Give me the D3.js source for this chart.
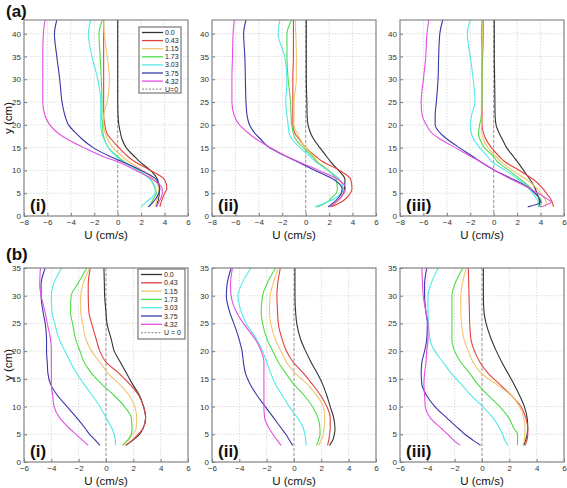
<!DOCTYPE html>
<html><head><meta charset="utf-8">
<script src="https://cdn.jsdelivr.net/npm/d3@7/dist/d3.min.js"></script>
<style>body{margin:0;background:#fff}svg{display:block;font-family:"Liberation Sans",Arial,sans-serif}</style>
</head><body><svg id="c" width="567" height="488"></svg>
<script>
// ---------- DATA ----------
const legendLabels = ["0.0","0.43","1.15","1.73","3.03","3.75","4.32"];
const seriesColors = ["#333333","#e0423c","#f2c46c","#4edc4e","#55e8e8","#3838a8","#e24fe2"];
const ticksXA = [-8,-6,-4,-2,0,2,4,6];
const ticksYA = [0,5,10,15,20,25,30,35,40];
const ticksXB = [-6,-4,-2,0,2,4,6];
const ticksYB = [0,5,10,15,20,25,30,35];

// Row (a): heights y (cm)
const yA = [2,3,4,5,6,8,10,12,13,15,17,18,20,22,25,30,35,40,43];
// (a)(i)
const aI_0   = [3.3,3.4,3.5,3.55,3.55,3.4,2.8,1.85,1.45,0.72,0.35,0.25,0.1,0.03,0,0,0,0,0];
const aI_043 = [3.6,3.7,3.85,4.0,4.2,4.0,2.8,1.4,0.9,0.1,-0.6,-0.9,-1.1,-1.2,-1.2,-1.2,-1.2,-1.2,-1.2];
const aI_115 = [3.2,3.3,3.4,3.5,3.5,3.1,2.1,0.9,0.4,-0.4,-0.9,-1.05,-1.2,-1.2,-0.9,-0.7,-0.9,-1.15,-1.2];
const aI_173 = [2.7,2.9,3.1,3.3,3.2,2.8,1.8,0.5,0,-0.8,-1.15,-1.25,-1.3,-1.35,-1.35,-1.4,-1.5,-1.6,-1.3];
const aI_303 = [2.0,2.4,2.9,3.2,3.2,2.8,1.7,0.4,-0.1,-0.8,-1.2,-1.35,-1.45,-1.45,-1.45,-1.7,-2.2,-2.5,-2.3];
const aI_375 = [2.6,3.0,3.3,3.5,3.6,3.3,2.0,0.3,-0.6,-2.1,-3.1,-3.5,-4.2,-4.5,-4.75,-4.95,-5.2,-5.4,-5.2];
const aI_432 = [3.3,3.5,3.7,3.8,3.8,3.0,1.55,-0.1,-1.2,-2.9,-4.4,-5.0,-5.8,-6.2,-6.4,-6.4,-6.4,-6.35,-6.2];
// (a)(ii)
const aII_0   = [2.0,2.6,3.0,3.2,3.3,3.35,2.8,2.1,1.8,1.2,0.65,0.45,0.2,0.12,0.1,0.05,0.05,0.05,0.05];
const aII_043 = [2.2,3.0,3.5,3.8,3.95,3.85,2.9,1.4,0.9,0,-0.6,-0.9,-1.1,-1.1,-1.1,-1.1,-1.05,-1.05,-1.05];
const aII_115 = [2.0,2.6,3.0,3.15,3.2,2.8,2.0,1.0,0.7,0,-0.5,-0.7,-1.0,-1.0,-1.0,-0.8,-0.8,-0.85,-0.9];
const aII_173 = [1.0,1.8,2.2,2.6,2.7,2.6,1.9,0.9,0.6,-0.2,-0.9,-1.05,-1.2,-1.25,-1.3,-1.5,-1.6,-1.6,-1.2];
const aII_303 = [0.8,1.8,2.6,3.0,3.2,2.9,1.9,0.8,0.4,-0.5,-1.2,-1.4,-1.5,-1.6,-1.7,-1.6,-1.8,-2.35,-2.2];
const aII_375 = [1.9,2.4,2.8,3.05,3.1,2.4,0.8,-0.8,-1.6,-3.1,-3.9,-4.3,-4.8,-5.0,-5.1,-5.15,-5.2,-5.3,-5.1];
const aII_432 = [2.1,2.5,2.95,3.25,3.4,2.8,1.1,-0.7,-1.55,-3.0,-4.3,-4.8,-5.65,-6.1,-6.3,-6.3,-6.25,-6.2,-6.1];
// (a)(iii)
const aIII_0   = [3.85,3.9,3.85,3.7,3.55,3.1,2.55,2.0,1.7,1.1,0.7,0.5,0.2,0.12,0.1,0.08,0.05,0.05,0.05];
const aIII_043 = [5.1,5.0,4.8,4.5,4.2,3.4,2.2,0.9,0.5,-0.2,-0.7,-0.85,-1.0,-1.0,-1.0,-1.0,-0.95,-0.9,-0.9];
const aIII_115 = [4.4,4.5,4.3,4.0,3.7,2.8,1.6,0.6,0.2,-0.5,-0.9,-1.0,-1.05,-1.05,-1.05,-1.0,-1.0,-0.95,-0.95];
const aIII_173 = [3.9,4.1,3.9,3.55,3.2,2.3,1.3,0.3,0,-0.8,-1.2,-1.3,-1.2,-1.05,-1.0,-1.0,-1.0,-1.05,-1.0];
const aIII_303 = [3.8,3.8,3.6,3.3,3.0,2.1,1.0,-0.2,-0.5,-1.2,-1.75,-1.9,-2.0,-1.9,-1.6,-1.75,-2.0,-2.25,-2.0];
const aIII_375 = [2.9,4.0,3.85,3.5,3.1,1.7,0.1,-1.2,-1.75,-2.95,-4.05,-4.5,-5.0,-5.0,-4.9,-4.75,-4.7,-4.6,-4.35];
const aIII_432 = [4.0,4.9,4.4,3.8,3.1,1.55,0.1,-1.2,-1.9,-3.3,-4.65,-5.2,-5.75,-6.1,-6.2,-6.0,-5.8,-5.7,-5.55];

// Row (b): heights y (cm)
const yB = [3,4,5,6,8,10,12,14,16,18,20,22,25,27,30,32,35];
// (b)(i)
const bI_0   = [1.45,2.0,2.45,2.7,2.9,2.75,2.45,1.95,1.5,1.05,0.6,0.4,0.07,0,-0.1,-0.12,-0.15];
const bI_043 = [1.45,1.95,2.35,2.7,2.9,2.75,2.4,1.75,0.95,0.0,-0.45,-0.7,-1.05,-1.25,-1.3,-1.3,-1.15];
const bI_115 = [1.25,1.65,1.95,2.2,2.25,2.1,1.7,1.0,0.15,-0.45,-1.05,-1.45,-1.7,-1.85,-1.85,-1.7,-1.2];
const bI_173 = [1.2,1.6,1.85,1.9,1.85,1.35,0.6,-0.3,-1.05,-1.6,-1.9,-2.2,-2.45,-2.6,-2.55,-2.1,-1.4];
const bI_303 = [0.7,0.68,0.6,0.45,0.0,-0.45,-1.0,-1.6,-2.15,-2.6,-3.0,-3.4,-3.75,-3.95,-4.0,-3.85,-3.25];
const bI_375 = [-0.45,-0.8,-1.2,-1.5,-2.15,-2.85,-3.55,-4.05,-4.25,-4.3,-4.35,-4.35,-4.45,-4.6,-4.75,-4.75,-4.45];
const bI_432 = [-1.3,-1.75,-2.2,-2.65,-3.4,-3.8,-3.9,-4.0,-4.0,-4.0,-4.0,-4.05,-4.3,-4.45,-4.75,-4.85,-4.8];
// (b)(ii)
const bII_0   = [2.6,2.85,2.95,3.0,2.9,2.65,2.4,2.1,1.7,1.25,0.85,0.5,0.2,0.12,0.07,0.07,0.07];
const bII_043 = [2.45,2.55,2.6,2.65,2.65,2.4,1.95,1.35,0.7,-0.05,-0.55,-0.85,-1.15,-1.2,-1.25,-1.2,-1.0];
const bII_115 = [1.8,2.0,2.15,2.2,2.25,2.15,1.65,1.0,0.1,-0.55,-0.95,-1.35,-1.7,-1.8,-1.75,-1.55,-1.15];
const bII_173 = [1.65,1.8,1.9,1.9,1.75,1.35,0.75,0,-0.6,-1.15,-1.55,-1.95,-2.3,-2.4,-2.3,-2.0,-1.35];
const bII_303 = [0.9,0.85,0.8,0.7,0.25,-0.35,-0.85,-1.35,-1.7,-2.0,-2.3,-2.7,-3.5,-3.85,-4.1,-3.85,-3.15];
const bII_375 = [-0.1,-0.35,-0.6,-0.9,-1.5,-2.1,-2.7,-3.2,-3.55,-3.7,-3.8,-4.0,-4.4,-4.7,-4.95,-4.9,-4.6];
const bII_432 = [-0.95,-1.25,-1.55,-1.8,-2.15,-2.2,-2.2,-2.2,-2.2,-2.2,-2.4,-2.8,-3.7,-4.2,-4.6,-4.65,-4.5];
// (b)(iii)
const bIII_0   = [3.05,3.2,3.3,3.35,3.3,3.1,2.75,2.35,1.9,1.45,1.05,0.7,0.3,0.15,0.1,0.1,0.1];
const bIII_043 = [3.15,3.3,3.35,3.35,3.2,2.85,2.15,1.3,0.45,-0.15,-0.55,-0.8,-0.9,-0.92,-0.95,-0.97,-1.0];
const bIII_115 = [3.0,3.1,3.12,3.15,3.05,2.75,2.15,1.05,-0.05,-0.65,-1.0,-1.3,-1.5,-1.55,-1.55,-1.45,-1.15];
const bIII_173 = [2.6,2.6,2.6,2.35,1.95,1.3,0.45,-0.3,-0.9,-1.55,-2.0,-2.2,-2.2,-2.2,-2.2,-2.0,-1.4];
const bIII_303 = [1.9,1.65,1.5,1.3,0.8,0.05,-0.8,-1.5,-2.25,-2.85,-3.45,-3.8,-3.9,-3.95,-3.95,-3.75,-3.2];
const bIII_375 = [-0.1,-0.7,-1.25,-1.7,-2.6,-3.45,-4.05,-4.4,-4.45,-4.4,-4.2,-4.05,-4.0,-4.1,-4.2,-4.2,-4.05];
const bIII_432 = [-1.6,-2.1,-2.5,-2.95,-3.8,-4.15,-4.2,-4.25,-4.2,-4.1,-4.05,-3.95,-3.95,-4.1,-4.3,-4.35,-4.4];

// ---------- LAYOUT ----------
const svg = d3.select("#c");
const colLeft = [24, 212, 400], plotW = 164;
const rows = [
  {top:20, bottom:216, xd:[-8,6], yd:[0,43], xt:ticksXA, yt:ticksYA, ys:yA, tag:"(a)", tagY:17, lblY:239,
   legend:{x:139,y:27,w:42,h:66,dy:8.1,zero:"U=0"},
   sets:[[aI_0,aI_043,aI_115,aI_173,aI_303,aI_375,aI_432],
         [aII_0,aII_043,aII_115,aII_173,aII_303,aII_375,aII_432],
         [aIII_0,aIII_043,aIII_115,aIII_173,aIII_303,aIII_375,aIII_432]]},
  {top:268, bottom:462, xd:[-6,6], yd:[0,35], xt:ticksXB, yt:ticksYB, ys:yB, tag:"(b)", tagY:260, lblY:485,
   legend:{x:138,y:269,w:47,h:70,dy:8.3,zero:"U = 0"},
   sets:[[bI_0,bI_043,bI_115,bI_173,bI_303,bI_375,bI_432],
         [bII_0,bII_043,bII_115,bII_173,bII_303,bII_375,bII_432],
         [bIII_0,bIII_043,bIII_115,bIII_173,bIII_303,bIII_375,bIII_432]]}
];
const roman = ["(i)","(ii)","(iii)"];

rows.forEach((r, ri) => {
  svg.append("text").attr("x",6).attr("y",r.tagY).attr("font-size",17).attr("font-weight","bold")
     .attr("fill","#111").text(r.tag);
  r.sets.forEach((set, ci) => {
    const L = colLeft[ci];
    const x = d3.scaleLinear().domain(r.xd).range([L, L+plotW]);
    const y = d3.scaleLinear().domain(r.yd).range([r.bottom, r.top]);
    const g = svg.append("g");
    // grid
    g.selectAll(".gx").data(r.xt).join("line").attr("x1",d=>x(d)).attr("x2",d=>x(d))
      .attr("y1",r.top).attr("y2",r.bottom).attr("stroke","#d4d4d4").attr("stroke-width",0.8).attr("stroke-dasharray","1.5,1.5");
    g.selectAll(".gy").data(r.yt).join("line").attr("y1",d=>y(d)).attr("y2",d=>y(d))
      .attr("x1",L).attr("x2",L+plotW).attr("stroke","#d4d4d4").attr("stroke-width",0.8).attr("stroke-dasharray","1.5,1.5");
    // axes
    const ax = g.append("g").attr("transform",`translate(0,${r.bottom})`)
      .call(d3.axisBottom(x).tickValues(r.xt).tickSize(-3).tickPadding(3).tickFormat(d3.format("d")));
    const ay = g.append("g").attr("transform",`translate(${L},0)`)
      .call(d3.axisLeft(y).tickValues(r.yt).tickSize(-3).tickPadding(3).tickFormat(d3.format("d")));
    [ax,ay].forEach(a=>{a.select(".domain").remove();
      a.selectAll("line").attr("stroke","#777");
      a.selectAll("text").attr("font-size",8).attr("fill","#333").attr("font-family","Liberation Sans, Arial");});
    // U=0 dashed
    g.append("line").attr("x1",x(0)).attr("x2",x(0)).attr("y1",r.top).attr("y2",r.bottom)
      .attr("stroke","#999").attr("stroke-width",1).attr("stroke-dasharray","3,2");
    // curves
    const line = d3.line().x(d=>x(d[1])).y(d=>y(d[0])).curve(d3.curveMonotoneY);
    set.forEach((vals, si) => {
      g.append("path").datum(r.ys.map((yy,i)=>[yy, vals[i]]))
       .attr("d", line).attr("fill","none").attr("stroke",seriesColors[si]).attr("stroke-width",1.1);
    });
    // box
    g.append("rect").attr("x",L).attr("y",r.top).attr("width",plotW).attr("height",r.bottom-r.top)
      .attr("fill","none").attr("stroke","#888").attr("stroke-width",1.2);
    // roman label
    g.append("text").attr("x",L+6).attr("y",r.bottom-5).attr("font-size",17).attr("font-weight","bold")
      .attr("fill","#111").text(roman[ci]);
    // x label
    g.append("text").attr("x",L+plotW/2).attr("y",r.lblY).attr("text-anchor","middle")
      .attr("font-size",11.5).attr("fill","#111").text("U (cm/s)");
    if (ci===0) {
      svg.append("text").attr("transform",`translate(12,${(r.top+r.bottom)/2}) rotate(-90)`)
        .attr("text-anchor","middle").attr("font-size",11.5).attr("fill","#111").text("y (cm)");
      // legend
      const lg = r.legend;
      const leg = svg.append("g");
      leg.append("rect").attr("x",lg.x).attr("y",lg.y).attr("width",lg.w).attr("height",lg.h)
        .attr("fill","#fff").attr("stroke","#777").attr("stroke-width",1.2);
      const items = legendLabels.map((t,i)=>({t, c:seriesColors[i], dash:null}))
        .concat([{t:lg.zero, c:"#999", dash:"2,1.5"}]);
      items.forEach((it,i)=>{
        const yy = lg.y + 5.5 + i*lg.dy;
        leg.append("line").attr("x1",lg.x+3).attr("x2",lg.x+24).attr("y1",yy).attr("y2",yy)
          .attr("stroke",it.c).attr("stroke-width",1.3).attr("stroke-dasharray",it.dash);
        leg.append("text").attr("x",lg.x+26).attr("y",yy+2.5).attr("font-size",7).attr("fill","#222").text(it.t);
      });
    }
  });
});
</script></body></html>
